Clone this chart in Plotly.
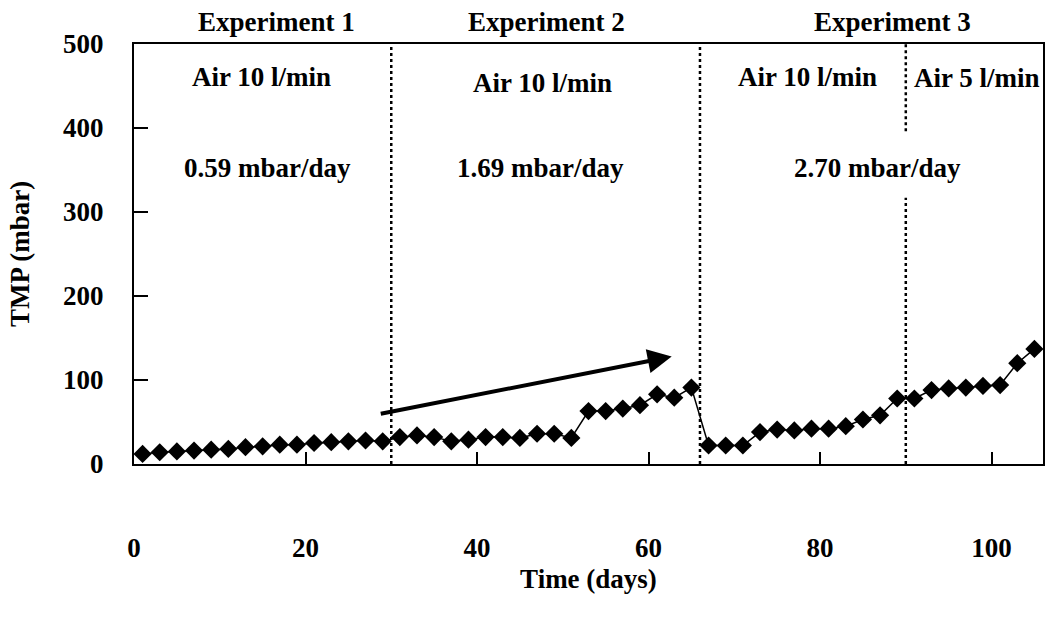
import plotly.graph_objects as go

# TMP readings every second day over three experiments
days = list(range(1, 107, 2))
tmp = [
    12, 14, 15, 16, 17, 18, 20, 21, 23, 23, 25, 26, 27, 28, 27,
    32, 34, 32, 27, 29, 32, 32, 31, 36, 36, 31,
    63, 63, 66, 70, 83, 79, 91,
    22, 22, 22, 38, 41, 40, 42, 42, 45, 53, 58, 78,
    78, 88, 90, 91, 93, 94, 120, 137,
]

# experiment boundaries (days)
boundaries = [30, 66, 90]

x_ticks = [0, 20, 40, 60, 80, 100]
y_ticks = [0, 100, 200, 300, 400, 500]

FONT = "Liberation Serif"
FS = 27

fig = go.Figure()
fig.add_trace(go.Scatter(
    x=days, y=tmp, mode="lines+markers",
    line=dict(color="black", width=1.5),
    marker=dict(symbol="diamond", size=14, color="black"),
    showlegend=False, cliponaxis=False,
))

# dotted separators; the last one is broken around the "Air 5 l/min" label
seg = [(boundaries[0], 0, 500), (boundaries[1], 0, 500),
       (boundaries[2], 0, 317), (boundaries[2], 396, 500)]
for xv, y0, y1 in seg:
    fig.add_shape(type="line", xref="x", yref="y", x0=xv, x1=xv, y0=y0, y1=y1,
                  line=dict(color="black", width=2.5, dash="dot"))

# experiment headings above the plot area
headings = [("Experiment 1", 16.6), ("Experiment 2", 48.1), ("Experiment 3", 88.4)]
for txt, xv in headings:
    fig.add_annotation(x=xv, y=1.052, xref="x", yref="paper", yanchor="middle",
                       text=txt, showarrow=False,
                       font=dict(family=FONT, size=FS, color="black", weight="bold"))

labels = [
    ("Air 10 l/min", 14.9, 461), ("Air 10 l/min", 47.6, 454),
    ("Air 10 l/min", 78.5, 461), ("Air 5 l/min", 98.3, 460),
    ("0.59 mbar/day", 15.6, 352), ("1.69 mbar/day", 47.4, 352),
    ("2.70 mbar/day", 86.7, 352),
]
for txt, xv, yv in labels:
    fig.add_annotation(x=xv, y=yv, xref="x", yref="y", text=txt, showarrow=False,
                       font=dict(family=FONT, size=FS, color="black", weight="bold"))

# trend arrow
fig.add_annotation(x=62.7, y=128, ax=28.6, ay=59.5, xref="x", yref="y",
                   axref="x", ayref="y", text="", showarrow=True,
                   arrowhead=2, arrowsize=1.2, arrowwidth=4, arrowcolor="black")

fig.update_layout(
    width=1046, height=619,
    margin=dict(l=134, r=1, t=44, b=155),
    plot_bgcolor="white", paper_bgcolor="white",
    font=dict(family=FONT, size=FS, color="black", weight="bold"),
    xaxis=dict(
        range=[0, 106], tickvals=x_ticks, ticks="inside", ticklen=12, tickwidth=2,
        tickcolor="black", showline=True, linecolor="black", linewidth=2, mirror=True,
        showgrid=False, zeroline=False, ticklabelstandoff=59,
        title=dict(text="Time (days)", standoff=7,
                   font=dict(family=FONT, size=FS, weight="bold")),
    ),
    yaxis=dict(
        range=[0, 500], tickvals=y_ticks, ticks="inside", ticklen=14, tickwidth=2,
        tickcolor="black", showline=True, linecolor="black", linewidth=2, mirror=True,
        showgrid=False, zeroline=False, ticklabelstandoff=23,
        title=dict(text="TMP (mbar)", standoff=26,
                   font=dict(family=FONT, size=FS, weight="bold")),
    ),
)

fig.write_html("out.html")
